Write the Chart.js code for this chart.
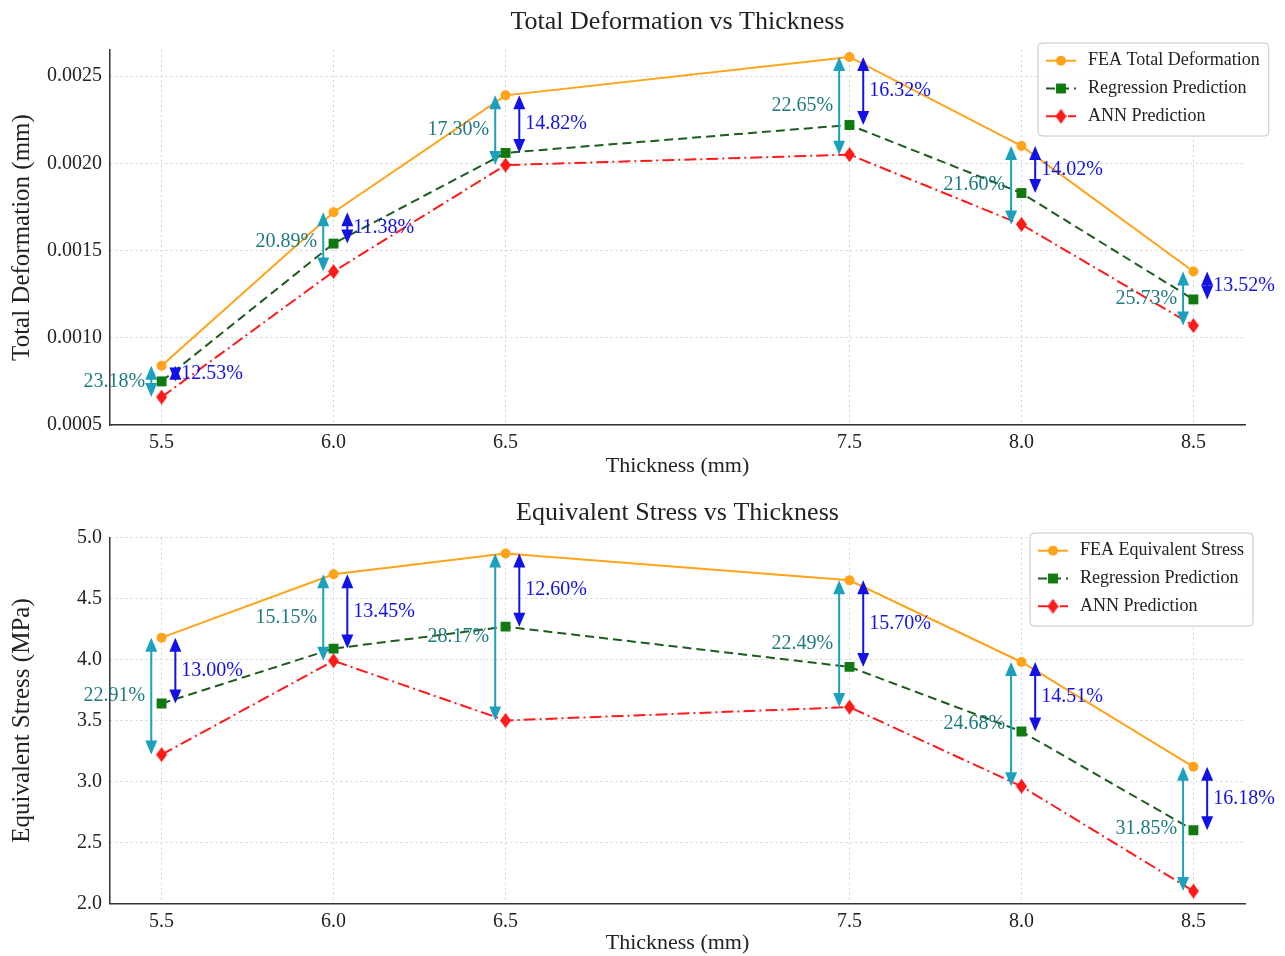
<!DOCTYPE html>
<html>
<head>
<meta charset="utf-8">
<script src="https://cdn.jsdelivr.net/npm/chart.js@4.4.1/dist/chart.umd.min.js"></script>
<style>
  html, body { margin: 0; padding: 0; background: #fff; }
  .wrap { position: relative; width: 1285px; }
</style>
</head>
<body>
<div class="wrap" style="height:480px"><canvas id="deformationChart"></canvas></div>
<div class="wrap" style="height:476px"><canvas id="stressChart"></canvas></div>
<script>
// values
const thickness = [5.5, 6.0, 6.5, 7.5, 8.0, 8.5];

const feaDeformation = [0.00084, 0.00172, 0.00239, 0.00261, 0.00210, 0.00138];
const regDeformation = [0.00075, 0.00154, 0.00206, 0.00222, 0.00183, 0.00122];
const annDeformation = [0.00066, 0.00138, 0.00199, 0.00205, 0.00165, 0.00107];
const annErrDeformation = ['23.18%', '20.89%', '17.30%', '22.65%', '21.60%', '25.73%'];
const regErrDeformation = ['12.53%', '11.38%', '14.82%', '16.32%', '14.02%', '13.52%'];
const deformationTicks = [0.0005, 0.0010, 0.0015, 0.0020, 0.0025];

const feaStress = [4.18, 4.70, 4.87, 4.65, 3.98, 3.12];
const regStress = [3.64, 4.09, 4.27, 3.94, 3.41, 2.60];
const annStress = [3.22, 3.99, 3.50, 3.61, 2.96, 2.10];
const annErrStress = ['22.91%', '15.15%', '28.17%', '22.49%', '24.68%', '31.85%'];
const regErrStress = ['13.00%', '13.45%', '12.60%', '15.70%', '14.51%', '16.18%'];
const stressTicks = [2.0, 2.5, 3.0, 3.5, 4.0, 4.5, 5.0];

const SERIF = '"Liberation Serif", "Times New Roman", serif';
Chart.defaults.font.family = SERIF;
Chart.defaults.color = '#222';

const ORANGE = '#ffa31a';
const GREEN_LINE = '#1d5c1d';
const GREEN_MARK = '#107a10';
const RED = '#ff1a1a';
const TEAL_ARROW = '#1ca0bd';
const TEAL_TEXT = '#1f7a80';
const BLUE = '#1212e6';

function diamondMarker(color, w, h) {
    const c = document.createElement('canvas');
    c.width = w; c.height = h;
    const g = c.getContext('2d');
    g.fillStyle = color;
    g.beginPath();
    g.moveTo(w / 2, 0); g.lineTo(w, h / 2); g.lineTo(w / 2, h); g.lineTo(0, h / 2);
    g.closePath(); g.fill();
    return c;
}
const redDiamond = diamondMarker(RED, 11, 15);

function toPoints(ys) {
    return thickness.map((x, i) => ({ x: x, y: ys[i] }));
}

function makeDatasets(feaLabel, fea, reg, ann) {
    return [{
        label: feaLabel,
        data: toPoints(fea),
        borderColor: ORANGE, backgroundColor: ORANGE,
        borderWidth: 2, pointStyle: 'circle', pointRadius: 5, pointBorderWidth: 0
    }, {
        label: 'Regression Prediction',
        data: toPoints(reg),
        borderColor: GREEN_LINE, backgroundColor: GREEN_MARK,
        borderWidth: 2, borderDash: [9, 5],
        pointStyle: 'rect', pointRadius: 7, pointBorderWidth: 0
    }, {
        label: 'ANN Prediction',
        data: toPoints(ann),
        borderColor: RED, backgroundColor: RED,
        borderWidth: 2, borderDash: [12, 4, 2, 4],
        pointStyle: redDiamond, pointRadius: 6, pointBorderWidth: 0
    }];
}

function drawArrow(ctx, x, y1, y2, color) {
    const head = 14, half = 6;
    const dir = y2 > y1 ? 1 : -1;
    ctx.save();
    ctx.strokeStyle = color;
    ctx.fillStyle = color;
    ctx.lineWidth = 2;
    ctx.beginPath();
    ctx.moveTo(x, y1 + dir * head * 0.7);
    ctx.lineTo(x, y2 - dir * head * 0.7);
    ctx.stroke();
    [[y1, dir], [y2, -dir]].forEach(([ty, d]) => {
        ctx.beginPath();
        ctx.moveTo(x, ty);
        ctx.lineTo(x - half, ty + d * head);
        ctx.lineTo(x + half, ty + d * head);
        ctx.closePath();
        ctx.fill();
    });
    ctx.restore();
}

// double arrows with error percentages (FEA -> ANN on the left, FEA -> regression on the right)
function arrowPlugin(fea, reg, ann, annLabels, regLabels) {
    return {
        id: 'errorArrows',
        afterDatasetsDraw(chart) {
            const { ctx, scales: { x, y } } = chart;
            ctx.save();
            ctx.font = '20px ' + SERIF;
            ctx.textBaseline = 'middle';
            thickness.forEach((t, i) => {
                const xa = x.getPixelForValue(t - 0.03);
                const ya1 = y.getPixelForValue(fea[i]);
                const ya2 = y.getPixelForValue(ann[i]);
                drawArrow(ctx, xa, ya1, ya2, TEAL_ARROW);
                ctx.fillStyle = TEAL_TEXT;
                ctx.textAlign = 'right';
                ctx.fillText(annLabels[i], xa - 6, (ya1 + ya2) / 2);

                const xb = x.getPixelForValue(t + 0.04);
                const yb2 = y.getPixelForValue(reg[i]);
                drawArrow(ctx, xb, ya1, yb2, BLUE);
                ctx.fillStyle = BLUE;
                ctx.textAlign = 'left';
                ctx.fillText(regLabels[i], xb + 6, (ya1 + yb2) / 2);
            });
            ctx.restore();
        }
    };
}

function drawMarker(ctx, ds, cx, cy) {
    const st = ds.pointStyle;
    ctx.fillStyle = ds.backgroundColor;
    if (st === 'circle') {
        ctx.beginPath(); ctx.arc(cx, cy, ds.pointRadius, 0, Math.PI * 2); ctx.fill();
    } else if (st === 'rect') {
        const r = ds.pointRadius * Math.SQRT1_2;
        ctx.fillRect(cx - r, cy - r, 2 * r, 2 * r);
    } else {
        ctx.drawImage(st, cx - st.width / 2, cy - st.height / 2);
    }
}

// framed legend like matplotlib's
function legendPlugin(boxX, boxY) {
    return {
        id: 'boxLegend',
        afterDraw(chart) {
            const ctx = chart.ctx;
            const sets = chart.data.datasets;
            ctx.save();
            ctx.font = '18px ' + SERIF;
            const textW = Math.max(...sets.map(d => ctx.measureText(d.label).width));
            const w = 50 + textW + 9, h = 93;
            ctx.beginPath();
            ctx.roundRect(boxX, boxY, w, h, 4);
            ctx.fillStyle = 'rgba(255,255,255,0.85)';
            ctx.fill();
            ctx.strokeStyle = '#c4c4c4';
            ctx.lineWidth = 1;
            ctx.stroke();
            sets.forEach((d, i) => {
                const yy = boxY + 17.7 + i * 27.8;
                ctx.save();
                ctx.strokeStyle = d.borderColor;
                ctx.lineWidth = 2;
                ctx.setLineDash(d.borderDash || []);
                ctx.beginPath();
                ctx.moveTo(boxX + 8, yy);
                ctx.lineTo(boxX + 38, yy);
                ctx.stroke();
                ctx.restore();
                drawMarker(ctx, d, boxX + 23, yy);
                ctx.fillStyle = '#222';
                ctx.textAlign = 'left';
                ctx.textBaseline = 'middle';
                ctx.fillText(d.label, boxX + 50, yy);
            });
            ctx.restore();
        }
    };
}

function makeChart(id, cfg) {
    const ctx = document.getElementById(id).getContext('2d');
    return new Chart(ctx, {
        type: 'line',
        data: { datasets: makeDatasets(cfg.feaLabel, cfg.fea, cfg.reg, cfg.ann) },
        options: {
            responsive: true,
            maintainAspectRatio: false,
            animation: false,
            devicePixelRatio: 1,
            layout: { padding: { left: 0, right: 40, top: 0, bottom: 0 } },
            plugins: {
                legend: { display: false },
                tooltip: { enabled: false },
                title: {
                    display: true,
                    fullSize: false,
                    text: cfg.title,
                    color: '#222',
                    font: { size: 26, weight: 'normal', family: SERIF },
                    padding: cfg.titlePad
                }
            },
            scales: {
                x: {
                    type: 'linear',
                    min: 5.35,
                    max: 8.65,
                    afterBuildTicks: s => { s.ticks = thickness.map(v => ({ value: v })); },
                    afterFit: s => { s.height = cfg.xHeight; },
                    ticks: { font: { size: 20 }, color: '#222', padding: 6, callback: v => v.toFixed(1) },
                    grid: { color: '#d2d2d2', lineWidth: 1, drawTicks: false },
                    border: { display: true, color: '#333', width: 1.5, dash: [2, 3] },
                    title: {
                        display: true, text: 'Thickness (mm)', color: '#222',
                        font: { size: 22 }, padding: { top: 0, bottom: cfg.xTitlePad }
                    }
                },
                y: {
                    type: 'linear',
                    min: cfg.yMin,
                    max: cfg.yMax,
                    afterBuildTicks: s => { s.ticks = cfg.yTicks.map(v => ({ value: v })); },
                    afterFit: s => { s.width = 110; },
                    ticks: { font: { size: 20 }, color: '#222', padding: 8, callback: v => v.toFixed(cfg.yDigits) },
                    grid: { color: '#d2d2d2', lineWidth: 1, drawTicks: false },
                    border: { display: true, color: '#333', width: 1.5, dash: [2, 3] },
                    title: {
                        display: true, text: cfg.yTitle, color: '#222',
                        font: { size: 25 }, padding: { top: 7, bottom: 0 }
                    }
                }
            }
        },
        plugins: [
            arrowPlugin(cfg.fea, cfg.reg, cfg.ann, cfg.annLabels, cfg.regLabels),
            legendPlugin(cfg.legendX, cfg.legendY)
        ]
    });
}

makeChart('deformationChart', {
    title: 'Total Deformation vs Thickness',
    feaLabel: 'FEA Total Deformation',
    yTitle: 'Total Deformation (mm)',
    fea: feaDeformation, reg: regDeformation, ann: annDeformation,
    annLabels: annErrDeformation, regLabels: regErrDeformation,
    yMin: 0.0005, yMax: 0.00265, yTicks: deformationTicks, yDigits: 4,
    titlePad: { top: 7, bottom: 11.8 },
    xHeight: 55, xTitlePad: 1,
    legendX: 1038, legendY: 43
});

makeChart('stressChart', {
    title: 'Equivalent Stress vs Thickness',
    feaLabel: 'FEA Equivalent Stress',
    yTitle: 'Equivalent Stress (MPa)',
    fea: feaStress, reg: regStress, ann: annStress,
    annLabels: annErrStress, regLabels: regErrStress,
    yMin: 2.0, yMax: 5.0, yTicks: stressTicks, yDigits: 1,
    titlePad: { top: 17.4, bottom: 9.1 },
    xHeight: 52.7, xTitlePad: 0,
    legendX: 1030, legendY: 53
});
</script>
</body>
</html>
